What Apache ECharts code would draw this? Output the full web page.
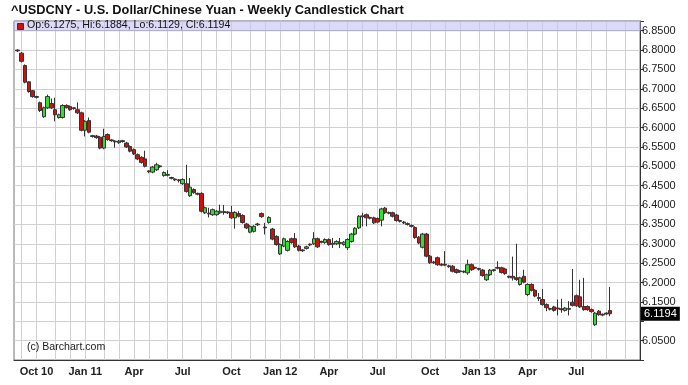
<!DOCTYPE html>
<html><head><meta charset="utf-8">
<script src="https://cdn.jsdelivr.net/npm/echarts@6/dist/echarts.min.js"></script>
<style>html,body{margin:0;padding:0;background:#fff}#c{width:688px;height:385px}</style>
</head><body><div id="c"></div>
<script>
// Weekly slots (Friday dates); slot 0 is an empty lead-in week, data begins at 2010-08-27
const firstSlot = '2010-08-20';
const slotCount = 168;

const openP = [
6.800,6.792,6.760,6.718,6.695,6.680,6.664,6.628,6.651,6.662,
6.646,6.626,6.626,6.657,6.654,6.651,6.646,6.638,6.593,6.618,
6.579,6.578,6.575,6.547,6.582,6.568,6.565,6.561,6.566,6.560,
6.551,6.543,6.530,6.523,6.519,6.488,6.485,6.491,6.501,6.476,
6.479,6.471,6.467,6.465,6.455,6.455,6.424,6.440,6.430,6.430,
6.380,6.379,6.375,6.375,6.380,6.383,6.382,6.381,6.367,6.378,
6.373,6.351,6.330,6.332,6.351,6.378,6.343,6.355,6.338,6.319,
6.274,6.294,6.283,6.313,6.313,6.294,6.284,6.288,6.299,6.300,
6.313,6.306,6.303,6.311,6.301,6.300,6.303,6.298,6.290,6.306,
6.325,6.341,6.372,6.375,6.368,6.367,6.365,6.361,6.392,6.381,
6.380,6.374,6.360,6.356,6.352,6.347,6.342,6.317,6.291,6.325,
6.268,6.253,6.264,6.247,6.247,6.243,6.242,6.233,6.230,6.229,
6.225,6.246,6.239,6.236,6.232,6.207,6.220,6.233,6.239,6.238,
6.235,6.216,6.216,6.212,6.195,6.216,6.169,6.195,6.180,6.161,
6.156,6.143,6.133,6.137,6.134,6.132,6.128,6.133,6.149,6.166,
6.163,6.138,6.138,6.130,6.091,6.126,6.118,6.121,6.1275];
const closeP = [
6.798,6.771,6.717,6.693,6.680,6.678,6.644,6.651,6.680,6.651,
6.633,6.633,6.657,6.652,6.646,6.649,6.638,6.593,6.616,6.588,
6.577,6.574,6.547,6.577,6.569,6.566,6.563,6.565,6.564,6.550,
6.539,6.532,6.519,6.510,6.500,6.486,6.498,6.504,6.499,6.484,
6.477,6.469,6.465,6.463,6.466,6.435,6.446,6.432,6.428,6.384,
6.393,6.377,6.388,6.384,6.384,6.381,6.380,6.367,6.381,6.371,
6.355,6.341,6.345,6.345,6.349,6.370,6.341,6.368,6.312,6.298,
6.298,6.313,6.306,6.303,6.292,6.283,6.282,6.292,6.297,6.313,
6.292,6.304,6.311,6.298,6.299,6.306,6.301,6.304,6.311,6.325,
6.340,6.371,6.370,6.367,6.366,6.354,6.356,6.390,6.380,6.379,
6.371,6.360,6.358,6.354,6.350,6.345,6.316,6.302,6.325,6.268,
6.251,6.251,6.246,6.245,6.245,6.241,6.229,6.226,6.228,6.227,
6.246,6.233,6.237,6.234,6.218,6.220,6.232,6.231,6.237,6.226,
6.223,6.214,6.212,6.208,6.212,6.201,6.195,6.180,6.165,6.159,
6.143,6.135,6.131,6.128,6.132,6.130,6.134,6.131,6.141,6.140,
6.137,6.130,6.130,6.125,6.121,6.117,6.116,6.119,6.1194];
const lowP = [
6.795,6.768,6.714,6.690,6.677,6.675,6.640,6.625,6.648,6.648,
6.616,6.623,6.623,6.649,6.643,6.646,6.635,6.590,6.577,6.585,
6.574,6.571,6.544,6.544,6.566,6.563,6.548,6.558,6.561,6.547,
6.536,6.529,6.516,6.507,6.497,6.482,6.482,6.488,6.496,6.473,
6.474,6.466,6.462,6.458,6.452,6.432,6.421,6.429,6.425,6.381,
6.377,6.368,6.372,6.372,6.377,6.375,6.377,6.364,6.339,6.368,
6.352,6.338,6.327,6.329,6.346,6.367,6.324,6.352,6.309,6.295,
6.271,6.291,6.280,6.300,6.289,6.280,6.279,6.285,6.294,6.297,
6.289,6.301,6.300,6.295,6.289,6.297,6.289,6.295,6.284,6.303,
6.322,6.338,6.345,6.345,6.363,6.351,6.353,6.345,6.377,6.376,
6.368,6.357,6.355,6.351,6.347,6.342,6.313,6.299,6.288,6.265,
6.248,6.248,6.243,6.242,6.242,6.238,6.226,6.223,6.225,6.224,
6.220,6.230,6.234,6.231,6.215,6.204,6.217,6.228,6.234,6.223,
6.220,6.211,6.205,6.204,6.192,6.198,6.165,6.177,6.162,6.152,
6.140,6.126,6.128,6.125,6.115,6.122,6.125,6.115,6.138,6.137,
6.134,6.127,6.127,6.122,6.088,6.114,6.113,6.116,6.1129];
const highP = [
6.802,6.795,6.763,6.720,6.697,6.682,6.667,6.654,6.685,6.675,
6.677,6.636,6.660,6.660,6.657,6.653,6.665,6.641,6.619,6.626,
6.581,6.581,6.578,6.597,6.585,6.570,6.567,6.568,6.568,6.563,
6.554,6.546,6.533,6.526,6.540,6.490,6.501,6.509,6.503,6.487,
6.490,6.473,6.469,6.467,6.469,6.504,6.470,6.443,6.432,6.433,
6.396,6.393,6.391,6.387,6.401,6.400,6.384,6.398,6.384,6.384,
6.376,6.354,6.348,6.348,6.354,6.381,6.354,6.371,6.341,6.322,
6.301,6.316,6.309,6.316,6.328,6.297,6.286,6.295,6.301,6.330,
6.316,6.308,6.314,6.314,6.315,6.309,6.315,6.307,6.314,6.328,
6.343,6.374,6.380,6.378,6.370,6.370,6.368,6.393,6.395,6.383,
6.383,6.377,6.362,6.359,6.355,6.350,6.345,6.320,6.328,6.328,
6.271,6.256,6.267,6.250,6.281,6.246,6.245,6.236,6.232,6.231,
6.259,6.249,6.241,6.238,6.235,6.223,6.235,6.235,6.255,6.241,
6.238,6.218,6.267,6.300,6.215,6.233,6.198,6.198,6.183,6.173,
6.183,6.146,6.135,6.140,6.156,6.158,6.137,6.152,6.235,6.169,
6.207,6.212,6.141,6.133,6.124,6.129,6.120,6.123,6.1884];

const quarterLabels = ['Oct 10','Jan 11','Apr','Jul','Oct','Jan 12','Apr','Jul','Oct','Jan 13','Apr','Jul'];
const yMin = 6.0, yMax = 6.875, yStep = 0.05;
const hiddenYLabels = [6.0, 6.1];
const titleText = '^USDCNY - U.S. Dollar/Chinese Yuan - Weekly Candlestick Chart';
const creditText = '(c) Barchart.com';

// ---- build slots ----
const slots = [];
const d0 = new Date(firstSlot + 'T00:00:00Z');
for (let i = 0; i < slotCount; i++) {
  slots.push(new Date(d0.getTime() + i * 7 * 86400000).toISOString().slice(0, 10));
}
const monthStart = slots.map(s => {
  const sun = new Date(new Date(s + 'T00:00:00Z').getTime() + 2 * 86400000);
  return sun.getUTCDate() <= 7 ? sun.getUTCMonth() : -1;
});
const lastIdx = openP.length;
const labelAt = {};
let q = 0;
monthStart.forEach((m, i) => {
  if (m >= 0 && m % 3 === 0 && i <= lastIdx && q < quarterLabels.length) labelAt[i] = quarterLabels[q++];
});

const ohlc = slots.map((s, i) => {
  const k = i - 1;
  return (k >= 0 && k < openP.length) ? [openP[k], closeP[k], lowP[k], highP[k]] : '-';
});
const n = openP.length - 1;
const fmt = v => v.toFixed(4);
const legendText = 'Op:' + fmt(openP[n]) + ', Hi:' + fmt(highP[n]) + ', Lo:' + fmt(lowP[n]) + ', Cl:' + fmt(closeP[n]);

const FONT = '"Liberation Sans", Arial, sans-serif';
const chart = echarts.init(document.getElementById('c'), null, {renderer: 'canvas'});
const baseGraphic = [
  {type: 'rect', left: 17, top: 23, shape: {width: 6, height: 6}, style: {fill: '#cc1111', stroke: '#333', lineWidth: 1}, z: 10},
  {type: 'text', left: 27, top: 20, style: {text: legendText, font: '10.6px ' + FONT, fill: '#111'}, z: 10},
  {type: 'text', left: 27, top: 342, style: {text: creditText, font: '10.6px ' + FONT, fill: '#222'}, z: 10}
];
chart.setOption({
  animation: false,
  backgroundColor: '#ffffff',
  title: {
    text: titleText, left: 11, top: 4, padding: 0,
    textStyle: {fontFamily: FONT, fontSize: 12.8, fontWeight: 'bold', color: '#111'}
  },
  grid: {left: 14, right: 48, top: 21, bottom: 25, show: true, borderColor: '#777', borderWidth: 1, backgroundColor: 'transparent'},
  xAxis: {
    type: 'category', data: slots, boundaryGap: false,
    axisLine: {show: true, lineStyle: {color: '#333', width: 1}},
    axisTick: {show: false},
    axisLabel: {
      interval: (i) => labelAt[i] !== undefined,
      formatter: (v, i) => labelAt[i] || '',
      fontFamily: FONT, fontSize: 11, fontWeight: 'bold', color: '#222', margin: 6
    },
    splitLine: {show: true, interval: (i) => monthStart[i] >= 0, lineStyle: {color: '#d2d2d2', width: 1}}
  },
  yAxis: {
    type: 'value', position: 'right', min: yMin, max: yMax, interval: yStep, scale: true,
    axisLine: {show: true, lineStyle: {color: '#333', width: 1}},
    axisTick: {show: true, length: 4, lineStyle: {color: '#333'}},
    axisLabel: {
      fontFamily: FONT, fontSize: 11, color: '#222', margin: 2,
      formatter: (v) => {
        const k = Math.round(v / yStep);
        if (Math.abs(v / yStep - k) > 1e-6) return '';
        if (hiddenYLabels.some(h => Math.abs(h - v) < 1e-9)) return '';
        return v.toFixed(4);
      }
    },
    splitLine: {show: true, lineStyle: {color: '#d2d2d2', width: 1}}
  },
  series: [{
    type: 'candlestick',
    data: ohlc,
    barWidth: 4,
    itemStyle: {color: '#33dd33', color0: '#cc1111', borderColor: '#333', borderColor0: '#333', borderWidth: 1},
    markArea: {
      silent: true,
      itemStyle: {color: 'rgba(195,195,240,0.6)', borderColor: '#aaaad0', borderWidth: 1},
      data: [[{yAxis: 6.85}, {yAxis: yMax}]]
    }
  }],
  graphic: baseGraphic
});
// current-price tag placed through the value axis scale
const py = chart.convertToPixel({yAxisIndex: 0}, closeP[n]);
const gridRight = 688 - 48;
chart.setOption({
  graphic: baseGraphic.concat([{
    type: 'text', x: gridRight + 1, y: py, z: 20,
    style: {
      text: fmt(closeP[n]), font: '11px ' + FONT, fill: '#fff',
      backgroundColor: '#000', padding: [2, 3, 1, 3], verticalAlign: 'middle', align: 'left'
    }
  }])
});
</script>
</body></html>
